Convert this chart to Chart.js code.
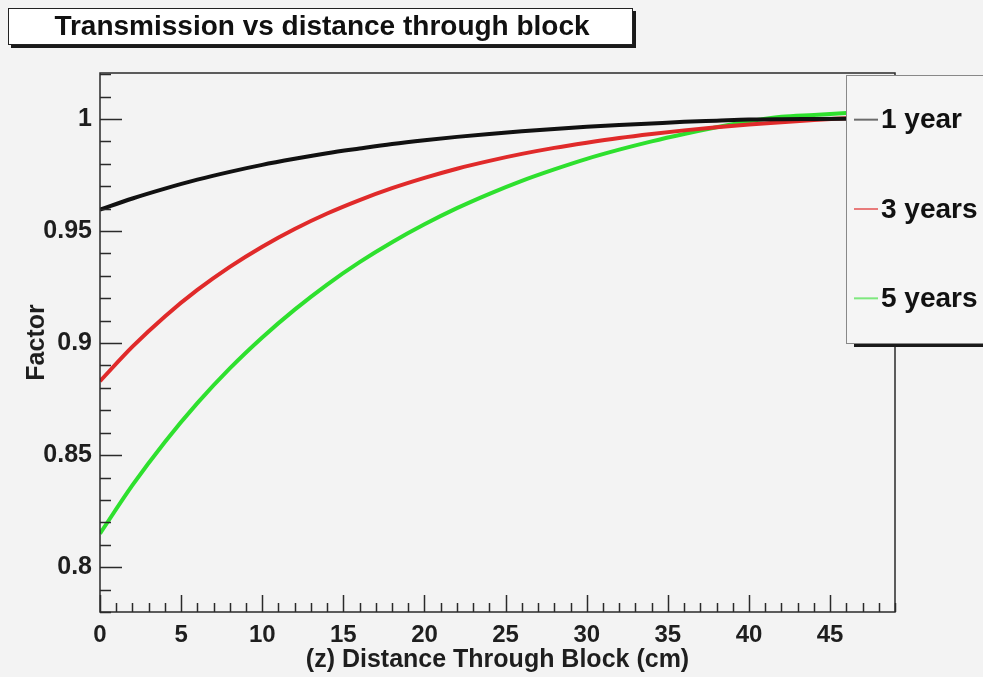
<!DOCTYPE html>
<html>
<head>
<meta charset="utf-8">
<title>Transmission vs distance through block</title>
<script src="https://cdn.jsdelivr.net/npm/chart.js@4.4.0/dist/chart.umd.min.js"></script>
<style>
  html, body { margin: 0; padding: 0; background: #f3f3f3; }
  #wrap { width: 983px; height: 677px; }
</style>
</head>
<body>
<div id="wrap"><canvas id="transmission" width="983" height="677"></canvas></div>
<script>
// distance through the block (cm)
const distance = [0, 2, 4, 6, 8, 10, 12, 14, 16, 18, 20, 22, 24, 26, 28, 30, 32, 34, 36, 38, 40, 42, 44, 46];

// transmission factor after each exposure period
const oneYear = [0.9595, 0.9645, 0.9689, 0.9729, 0.9764, 0.9795, 0.9822, 0.9847, 0.9868, 0.9888, 0.9905, 0.9920,
                 0.9933, 0.9945, 0.9955, 0.9965, 0.9973, 0.9980, 0.9987, 0.9992, 0.9997, 0.9999, 1.0000, 1.0001];
const threeYears = [0.8830, 0.8984, 0.9119, 0.9237, 0.9340, 0.9430, 0.9509, 0.9578, 0.9638, 0.9691, 0.9737, 0.9778,
                    0.9813, 0.9844, 0.9871, 0.9894, 0.9915, 0.9933, 0.9949, 0.9963, 0.9975, 0.9985, 0.9995, 1.0003];
const fiveYears = [0.8150, 0.8366, 0.8559, 0.8732, 0.8887, 0.9025, 0.9149, 0.9261, 0.9361, 0.9450, 0.9530, 0.9602,
                   0.9666, 0.9724, 0.9775, 0.9822, 0.9863, 0.9900, 0.9933, 0.9963, 0.9990, 1.0010, 1.0018, 1.0026];

const seriesLabels = ['1 year', '3 years', '5 years'];
const seriesColors = ['#111111', '#e02a2a', '#2ee02e'];

const xTicks = [0, 5, 10, 15, 20, 25, 30, 35, 40, 45];
const yTicks = [0.8, 0.85, 0.9, 0.95, 1];

const chartTitle = 'Transmission vs distance through block';
const xTitle = '(z) Distance Through Block (cm)';
const yTitle = 'Factor';

const FONT = '"Liberation Sans", Arial, Helvetica, sans-serif';

function toPoints(values) {
    return distance.map((z, i) => ({ x: z, y: values[i] }));
}

// plain grey page behind everything
const canvasBackground = {
    id: 'canvasBackground',
    beforeDraw(chart) {
        const { ctx, width, height } = chart;
        ctx.save();
        ctx.fillStyle = '#f3f3f3';
        ctx.fillRect(0, 0, width, height);
        ctx.restore();
    }
};

// frame around the plot with ticks pointing inwards
const frameTicks = {
    id: 'frameTicks',
    afterDatasetsDraw(chart) {
        const { ctx, chartArea: a, scales: { x, y } } = chart;
        ctx.save();
        ctx.strokeStyle = '#2a2a2a';
        ctx.lineWidth = 1.5;
        ctx.strokeRect(a.left, a.top, a.right - a.left, a.bottom - a.top);

        ctx.beginPath();
        for (let v = Math.ceil(x.min); v <= x.max; v++) {
            const px = Math.round(x.getPixelForValue(v)) + 0.5;
            const len = v % 5 === 0 ? 17 : 9;
            ctx.moveTo(px, a.bottom);
            ctx.lineTo(px, a.bottom - len);
        }
        for (let k = Math.ceil(y.min * 100); k <= y.max * 100; k++) {
            const py = Math.round(y.getPixelForValue(k / 100)) + 0.5;
            const len = k % 5 === 0 ? 22 : 11;
            ctx.moveTo(a.left, py);
            ctx.lineTo(a.left + len, py);
        }
        ctx.stroke();
        ctx.restore();
    }
};

// boxed title at the top left and boxed legend on the right
const boxes = {
    id: 'boxes',
    afterDraw(chart) {
        const { ctx } = chart;
        ctx.save();

        // title
        ctx.fillStyle = '#1a1a1a';
        ctx.fillRect(11, 11, 625, 37);
        ctx.fillStyle = '#ffffff';
        ctx.fillRect(8, 8, 625, 37);
        ctx.strokeStyle = '#222';
        ctx.lineWidth = 1;
        ctx.strokeRect(8.5, 8.5, 624, 36);
        ctx.fillStyle = '#111';
        ctx.font = 'bold 28px ' + FONT;
        ctx.textAlign = 'center';
        ctx.textBaseline = 'middle';
        ctx.fillText(chartTitle, 322, 27);

        // legend
        const lx = 846, ly = 75, lw = 150, lh = 268;
        ctx.fillStyle = '#1a1a1a';
        ctx.fillRect(lx + 8, ly + lh, lw, 4);
        ctx.fillStyle = '#f5f5f5';
        ctx.fillRect(lx, ly, lw, lh);
        ctx.strokeStyle = '#888';
        ctx.lineWidth = 1;
        ctx.strokeRect(lx + 0.5, ly + 0.5, lw, lh);

        ctx.font = 'bold 28px ' + FONT;
        ctx.textAlign = 'left';
        chart.data.datasets.forEach((ds, i) => {
            const ry = ly + lh * (i + 0.5) / 3;
            ctx.strokeStyle = ds.borderColor;
            ctx.globalAlpha = 0.6;
            ctx.lineWidth = 2;
            ctx.beginPath();
            ctx.moveTo(lx + 8, ry);
            ctx.lineTo(lx + 32, ry);
            ctx.stroke();
            ctx.globalAlpha = 1;
            ctx.fillStyle = '#111';
            ctx.fillText(ds.label, lx + 35, ry + 1);
        });
        ctx.restore();
    }
};

const datasets = [oneYear, threeYears, fiveYears].map((values, i) => ({
    label: seriesLabels[i],
    data: toPoints(values),
    borderColor: seriesColors[i],
    borderWidth: 4,
    pointRadius: 0,
    cubicInterpolationMode: 'monotone',
    fill: false
}));

new Chart(document.getElementById('transmission'), {
    type: 'line',
    data: { datasets },
    plugins: [canvasBackground, frameTicks, boxes],
    options: {
        responsive: false,
        devicePixelRatio: 1,
        animation: false,
        layout: { padding: { top: 73, right: 88, left: 0, bottom: 0 } },
        plugins: {
            legend: { display: false },
            title: { display: false },
            tooltip: { enabled: false }
        },
        scales: {
            x: {
                type: 'linear',
                min: 0,
                max: 49,
                afterBuildTicks: axis => { axis.ticks = xTicks.map(v => ({ value: v })); },
                afterFit: axis => { axis.height = 65; },
                grid: { display: false, drawTicks: false },
                border: { display: false },
                ticks: {
                    autoSkip: false,
                    maxRotation: 0,
                    padding: 9,
                    color: '#1e1e1e',
                    font: { family: FONT, size: 24, weight: 'bold' }
                },
                title: {
                    display: true,
                    text: xTitle,
                    color: '#1e1e1e',
                    font: { family: FONT, size: 25, weight: 'bold' },
                    padding: { top: 0, bottom: 2 }
                }
            },
            y: {
                type: 'linear',
                min: 0.78,
                max: 1.0205,
                afterBuildTicks: axis => { axis.ticks = yTicks.map(v => ({ value: v })); },
                afterFit: axis => { axis.width = 100; },
                grid: { display: false, drawTicks: false },
                border: { display: false },
                ticks: {
                    padding: 8,
                    color: '#1e1e1e',
                    font: { family: FONT, size: 25, weight: 'bold' },
                    callback: v => String(Number(v.toFixed(2)))
                },
                title: {
                    display: true,
                    text: yTitle,
                    color: '#1e1e1e',
                    font: { family: FONT, size: 25, weight: 'bold' },
                    padding: { top: 22, bottom: 0 }
                }
            }
        }
    }
});
</script>
</body>
</html>
